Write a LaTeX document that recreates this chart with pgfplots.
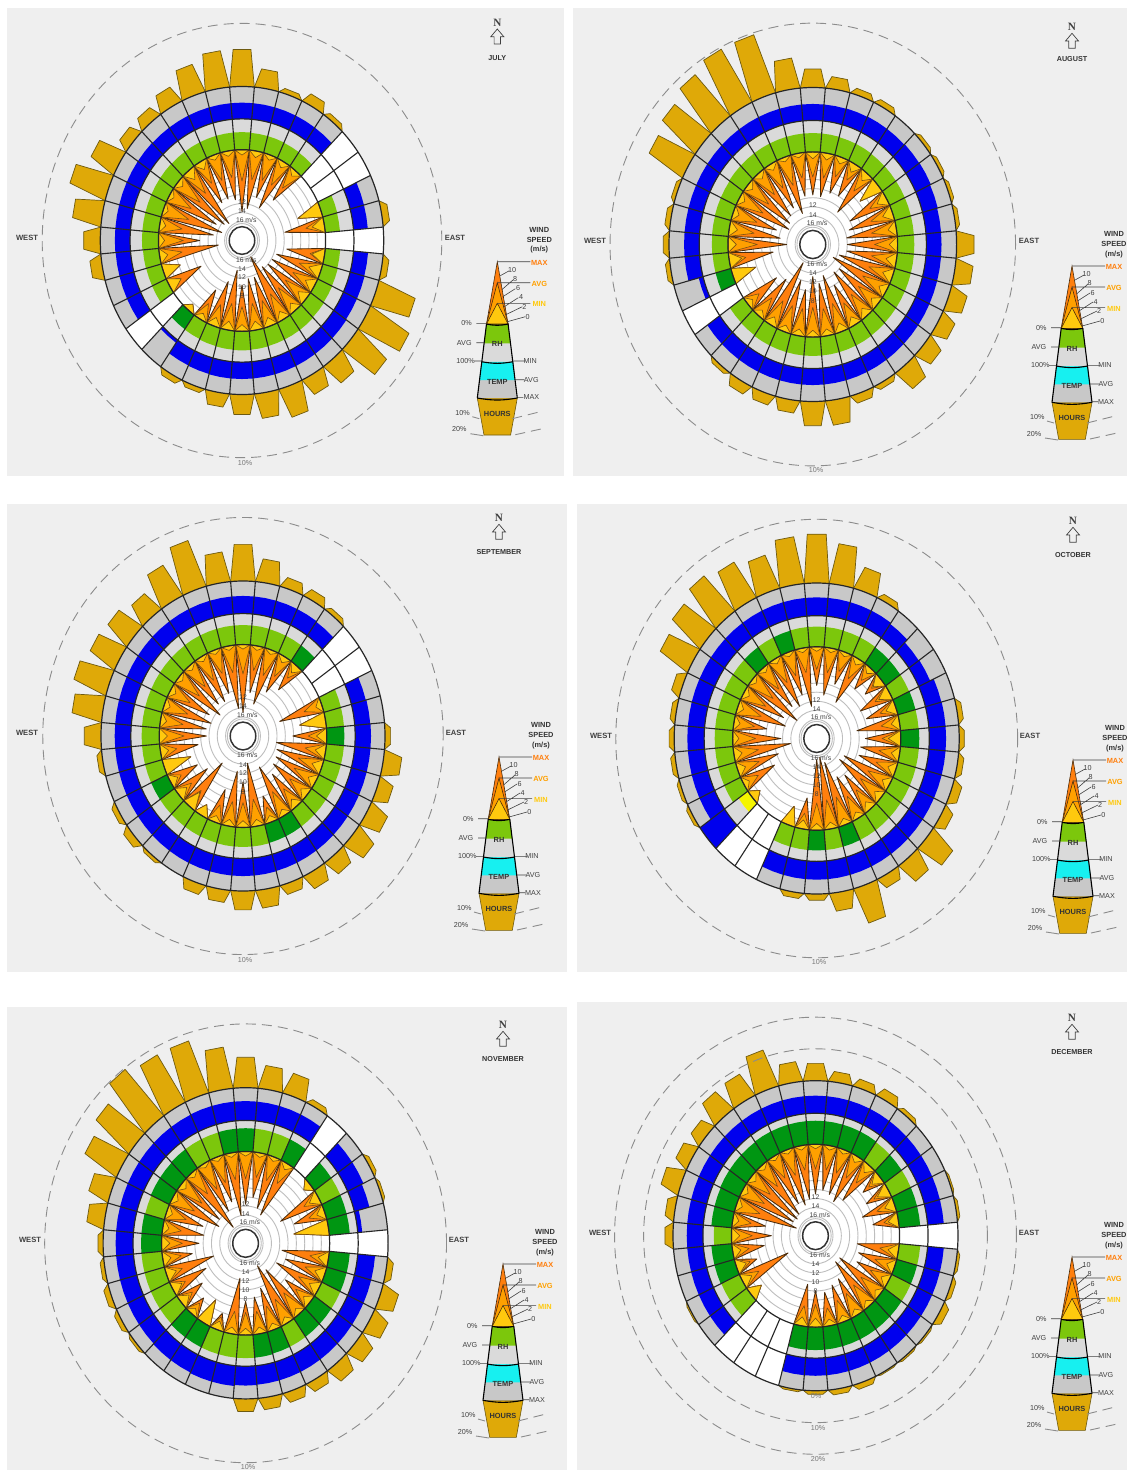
\documentclass[border=0pt]{standalone}
\usepackage{fontspec}
\setmainfont{Liberation Sans}
\newfontfamily\serifn{Liberation Serif}
\usepackage{pgfplots}
\usepackage{pgfplotstable}
\pgfplotsset{compat=1.18}

\definecolor{panelbg}{HTML}{EFEFEF}
\definecolor{hourgold}{HTML}{DFA908}
\definecolor{houredge}{HTML}{6E5A10}
\definecolor{tempgray}{HTML}{C8C8C8}
\definecolor{rhgray}{HTML}{DADADA}
\definecolor{tempblue}{HTML}{0000EE}
\definecolor{tempcyan}{HTML}{17F0F0}
\definecolor{rhlight}{HTML}{7CC70C}
\definecolor{rhdark}{HTML}{009612}
\definecolor{rhyellow}{HTML}{F5F500}
\definecolor{windmax}{HTML}{FF7F0E}
\definecolor{windavg}{HTML}{FFA000}
\definecolor{windmin}{HTML}{FFC90E}
\definecolor{windedge}{HTML}{4A2C0C}
\definecolor{windedgesoft}{HTML}{7A5014}
\definecolor{gridgray}{HTML}{BEBEBE}
\definecolor{dashgray}{HTML}{8C8C8C}
\definecolor{txt}{HTML}{404040}
\definecolor{txtlight}{HTML}{777777}

% dir hours rh class temp wmax wavg wmin ; dir clockwise from north, nan = no data
\pgfplotstableread{
dir hours rh cls temp wmax wavg wmin
0 5.9 57 0 50 13.8 7.0 1.2
10 3.0 56 0 50 13.0 6.5 1.5
20 0.8 56 0 50 10.0 6.0 1.2
30 1.7 55 0 50 11.8 6.0 1.5
40 0.8 54 0 50 8.5 5.0 1.5
50 0 nan 0 nan nan nan nan
60 0 nan 0 nan nan nan nan
70 0 53 0 48 5.8 5.8 5.8
80 1.2 52 0 48 9.7 4.5 3.0
90 0 nan 0 nan nan nan nan
100 1.1 53 0 49 9.2 3.5 3.0
110 6.8 55 0 50 11.3 5.5 3.0
120 7.9 56 0 50 11.8 6.0 2.5
130 6.8 58 0 52 12.0 6.5 2.5
140 3.9 60 0 52 12.6 6.5 2.0
150 3.0 60 0 52 16.0 6.5 2.0
160 4.9 60 0 52 11.5 6.0 2.0
170 4.0 61 0 52 11.6 6.0 2.0
180 3.2 62 0 52 10.3 5.5 1.5
190 2.2 61 0 52 13.5 6.0 2.0
200 0.8 60 0 51 10.5 5.0 2.0
210 1.0 58 0 50 7.5 4.0 1.5
220 0 57 1 10 1.7 1.7 1.7
230 0 nan 0 nan nan nan nan
240 0 55 0 50 8.8 3.2 3.2
250 0 55 0 50 4.3 4.3 4.3
260 2.0 56 0 50 14.4 5.5 2.0
270 2.9 58 0 51 10.0 6.0 1.5
280 5.0 58 0 51 13.2 5.5 1.5
290 6.6 58 0 51 15.0 6.5 1.2
300 4.8 58 0 51 13.0 6.0 1.2
310 2.0 58 0 51 14.6 7.0 1.5
320 2.0 57 0 50 15.3 6.5 2.5
330 2.9 57 0 50 10.5 5.5 2.0
340 4.8 57 0 50 10.4 6.0 1.2
350 5.9 57 0 50 11.0 6.0 1.2
}\tabJul

\pgfplotstableread{
dir hours rh cls temp wmax wavg wmin
0 2.9 60 0 50 9.4 5.5 1.5
10 1.9 60 0 50 9.6 5.5 1.5
20 1.0 59 0 51 8.3 4.5 1.5
30 0.9 59 0 52 8.0 4.0 2.0
40 0 58 0 52 11.0 5.0 2.0
50 0.6 58 0 54 5.5 5.5 5.5
60 0.6 58 0 55 10.0 4.5 2.5
70 0.6 58 0 52 11.0 5.5 2.5
80 0.7 58 0 50 12.0 6.0 2.0
90 3.0 58 0 50 12.0 5.5 2.0
100 3.0 58 0 50 12.0 6.0 2.5
110 3.0 58 0 50 13.5 6.0 2.5
120 2.7 58 0 50 14.6 6.5 2.0
130 2.9 58 0 50 12.0 6.0 2.0
140 3.7 59 0 50 12.4 6.0 2.0
150 0.9 60 0 50 10.0 5.5 2.0
160 1.4 60 0 50 13.0 6.5 2.0
170 3.9 60 0 50 11.6 6.0 1.5
180 3.8 60 0 50 13.2 6.5 1.5
190 2.0 60 0 50 10.2 6.0 1.5
200 1.7 60 0 50 11.9 6.0 1.5
210 1.7 60 0 50 15.6 6.0 2.0
220 0.7 58 0 50 10.3 5.0 1.5
230 0 57 0 50 8.9 3.5 1.5
240 0 nan 0 nan nan nan nan
250 0 55 1 15 5.7 5.7 5.7
260 0.8 55 0 50 10.6 4.0 3.0
270 1.0 56 0 50 14.0 7.0 2.0
280 0.9 57 0 50 12.3 6.0 2.0
290 0.7 58 0 50 11.0 6.0 1.5
300 6.8 58 0 50 13.6 6.5 1.5
310 7.6 60 0 50 13.0 6.5 1.5
320 8.7 60 0 50 12.0 6.0 1.5
330 9.7 60 0 50 11.0 6.0 1.5
340 9.7 60 0 50 13.0 6.5 1.0
350 4.8 60 0 50 9.5 5.5 1.0
}\tabAug

\pgfplotstableread{
dir hours rh cls temp wmax wavg wmin
0 5.8 63 0 54 15.0 6.5 1.0
10 3.7 63 0 54 10.5 5.5 1.0
20 1.7 62 0 54 12.7 6.0 1.0
30 1.5 62 0 54 9.0 5.0 1.5
40 0.8 62 1 52 6.9 3.5 2.0
50 0 nan 0 nan nan nan nan
60 0 nan 0 nan nan nan nan
70 0 62 0 50 10.8 4.5 1.5
80 0 62 0 52 6.3 6.3 6.3
90 1.0 62 1 53 8.2 4.5 2.5
100 3.1 62 0 53 12.0 5.0 2.5
110 2.6 62 0 53 11.5 6.0 2.5
120 3.5 62 0 53 11.0 6.0 2.0
130 3.8 62 0 53 10.6 5.5 2.0
140 2.8 62 0 53 9.2 5.0 2.0
150 2.6 62 1 53 12.3 6.0 1.5
160 1.7 62 1 53 6.1 3.5 1.5
170 2.9 63 0 54 14.1 6.0 1.5
180 3.0 63 0 54 10.0 5.5 1.5
190 2.0 63 0 54 12.3 5.5 1.5
200 1.7 62 0 54 7.6 4.0 1.5
210 0 62 0 54 2.7 2.7 2.7
220 0.6 62 0 54 12.4 4.5 4.0
230 1.3 62 0 54 9.0 4.0 2.5
240 0.9 62 1 54 7.5 3.0 2.0
250 0 62 0 54 6.8 6.8 6.8
260 0.9 62 0 54 9.2 4.0 2.0
270 2.9 62 0 54 11.4 6.0 2.0
280 5.2 62 0 54 11.2 5.5 1.5
290 6.0 62 0 54 12.0 6.0 1.5
300 5.1 62 0 54 10.8 5.5 1.5
310 4.7 62 0 54 13.0 6.5 1.2
320 3.7 62 0 54 11.0 6.0 1.2
330 5.8 63 0 54 11.4 6.0 1.2
340 7.8 63 0 54 10.2 5.5 1.0
350 4.8 63 0 54 14.0 6.0 1.0
}\tabSep

\pgfplotstableread{
dir hours rh cls temp wmax wavg wmin
0 7.7 65 0 56 8.5 5.0 1.0
10 6.4 65 0 56 10.5 5.5 1.0
20 3.7 64 0 56 7.5 4.5 1.0
30 1.0 64 0 56 11.0 5.0 1.5
40 0 63 1 52 6.0 3.5 1.5
50 0 63 1 40 5.0 3.0 2.5
60 0 63 0 42 8.1 4.0 3.0
70 0 64 1 55 7.5 4.0 2.5
80 0.9 64 0 56 10.4 4.5 2.0
90 0.9 65 1 56 8.5 4.5 3.0
100 1.0 65 0 56 9.5 5.0 2.0
110 1.6 65 0 56 9.4 5.0 2.0
120 1.8 65 0 56 12.6 6.0 2.0
130 4.8 65 0 56 13.0 6.5 2.0
140 3.7 65 0 56 9.7 5.5 2.0
150 1.9 65 0 56 10.5 5.5 1.5
160 5.9 65 1 56 14.6 6.5 1.5
170 2.9 65 0 56 16.0 6.5 1.5
180 1.0 65 1 56 15.6 6.0 1.5
190 0.9 65 0 56 6.9 3.5 2.0
200 0 65 0 56 4.3 4.3 4.3
210 0 nan 0 nan nan nan nan
220 0 nan 0 nan nan nan nan
230 0 40 2 100 2.4 2.4 2.4
240 0.6 63 0 56 8.5 4.0 1.5
250 0.6 63 0 56 10.4 5.5 2.0
260 0.8 63 0 56 13.8 6.0 2.0
270 0.9 63 0 56 11.6 5.5 1.5
280 0.9 63 0 56 8.0 5.0 1.5
290 1.6 63 0 56 12.2 6.0 1.5
300 5.7 64 0 56 11.0 6.0 1.5
310 6.6 64 0 56 14.0 6.5 1.2
320 7.6 64 1 56 11.0 6.0 1.2
330 6.7 64 0 56 12.0 6.0 1.2
340 5.7 64 1 56 10.0 5.5 1.0
350 7.5 65 0 56 13.0 5.5 1.0
}\tabOct

\pgfplotstableread{
dir hours rh cls temp wmax wavg wmin
0 4.8 75 1 59 11.6 6.0 1.0
10 3.7 75 0 59 10.0 5.5 1.0
20 3.5 74 0 59 12.0 5.5 1.0
30 0.9 74 1 59 13.0 5.0 1.5
40 0 nan 0 nan nan nan nan
50 0 72 1 58 1.9 1.9 1.9
60 0.7 72 0 58 10.5 4.0 2.5
70 0.5 72 1 52 7.8 4.0 2.0
80 0 72 1 15 8.4 8.4 8.4
90 0 nan 0 nan nan nan nan
100 1.1 72 1 58 11.3 4.5 2.5
110 3.0 72 1 58 10.0 5.0 2.5
120 3.0 72 0 58 11.6 5.5 2.5
130 2.9 72 1 58 7.7 4.5 2.0
140 2.7 72 1 58 12.6 6.0 1.5
150 1.7 72 0 58 14.5 6.0 1.5
160 1.7 72 1 58 9.7 5.5 1.5
170 1.9 74 1 58 8.2 5.0 1.5
180 2.0 74 0 59 7.4 5.0 1.5
190 0 74 0 62 12.4 5.0 1.5
200 0 74 0 62 3.8 3.0 2.0
210 0 74 1 60 5.8 5.8 5.8
220 0 74 1 60 4.5 3.0 1.5
230 0.5 72 0 58 6.6 3.5 2.5
240 0.8 72 0 58 9.2 3.5 2.5
250 1.0 72 0 58 12.0 4.0 2.5
260 0.7 72 0 58 7.2 4.5 2.0
270 0.9 72 1 58 9.0 5.0 2.0
280 3.0 72 1 58 10.0 4.5 1.5
290 3.7 70 0 58 9.3 5.0 1.5
300 6.5 72 1 58 12.8 6.0 1.5
310 7.7 72 1 58 12.0 6.5 1.5
320 9.8 74 1 58 15.6 6.0 1.2
330 8.8 74 0 58 12.0 6.5 1.0
340 8.8 74 0 59 10.5 6.0 1.0
350 6.6 75 1 59 14.0 6.0 1.0
}\tabNov

\pgfplotstableread{
dir hours rh cls temp wmax wavg wmin
0 5.5 76 1 54 11.0 5.5 1.0
10 3.3 76 1 54 10.0 5.5 1.0
20 2.8 76 1 54 10.5 5.5 1.0
30 3.1 76 1 54 11.5 5.5 1.5
40 1.4 74 0 54 10.0 5.0 2.0
50 0 74 1 54 5.3 3.5 2.5
60 0 74 0 54 6.1 4.0 3.0
70 0.7 74 1 54 8.2 4.5 2.5
80 1.0 74 1 54 6.2 3.5 2.5
90 0 nan 0 nan nan nan nan
100 1.0 74 0 54 10.0 4.5 2.5
110 1.5 74 1 54 9.2 5.0 2.0
120 2.4 74 0 54 8.7 5.0 2.0
130 0.7 74 1 54 12.6 6.0 1.5
140 0.7 74 1 54 12.7 6.0 1.5
150 0.5 74 1 54 9.2 5.5 1.5
160 1.8 74 1 54 8.6 5.0 1.5
170 1.7 74 1 54 7.5 4.0 1.5
180 1.2 74 1 54 8.0 5.0 2.0
190 0.7 74 1 54 9.3 4.5 2.0
200 0 nan 0 nan nan nan nan
210 0 nan 0 nan nan nan nan
220 0 nan 0 nan nan nan nan
230 0 70 0 54 3.2 3.2 3.2
240 0.6 70 0 54 12.6 4.5 2.5
250 0 72 1 54 5.2 3.5 2.5
260 0 72 1 54 7.7 4.0 2.0
270 2.8 62 0 54 9.6 5.0 2.0
280 3.1 72 1 54 8.0 4.5 1.5
290 6.5 72 1 54 15.3 6.0 1.5
300 4.9 74 1 54 14.0 6.0 1.5
310 4.6 74 1 54 14.5 6.0 1.5
320 8.0 74 1 54 14.0 6.0 1.2
330 8.3 76 1 54 12.0 5.5 1.0
340 12.3 76 1 54 13.0 6.0 1.0
350 6.4 76 1 54 12.0 5.5 1.0
}\tabDec

\def\nanstr{nan}
\newcommand{\elem}[3]{\pgfplotstablegetelem{#1}{#2}\of{#3}\edef\val{\pgfplotsretval}}
\newcommand{\ring}[2][gridgray]{\draw[#1,line width=0.45pt] (axis cs:0,0) ellipse [x radius=#2,y radius=#2];}

% one cell of a ring band, outer and inner edge follow the arc
\newcommand{\cell}[4]{% colour, centre angle, inner r, outer r
  \pgfmathsetmacro\aL{#2+5}\pgfmathsetmacro\aR{#2-5}%
  \edef\temp{\noexpand\addplot[data cs=polar,fill=#1,draw=none]
    coordinates {(\aL,#3)(#2,#3)(\aR,#3)(\aR,#4)(#2,#4)(\aL,#4)} --cycle;}\temp}

\newcommand{\spike}[4]{% colour, edge style, centre angle, speed
  \pgfmathsetmacro\aL{#3+5}\pgfmathsetmacro\aR{#3-5}%
  \pgfmathsetmacro\rr{0.59-0.0292*#4}%
  \edef\temp{\noexpand\addplot[data cs=polar,fill=#1,#2,line join=round]
    coordinates {(\aL,0.59)(#3,\rr)(\aR,0.59)} --cycle;}\temp}

\newcommand{\rose}[2]{% table, hour scale in radius per percent
  \pgfplotstablegetrowsof{#1}%
  \pgfmathtruncatemacro\lastrow{\pgfplotsretval-1}%
  \pgfplotsforeachungrouped \i in {0,...,\lastrow}{%
    \elem{\i}{dir}{#1}\pgfmathsetmacro\ang{90-\val}%
    \elem{\i}{hours}{#1}\let\hv\val
    \ifdim\hv pt>0pt
      \pgfmathsetmacro\rh{1+#2*\hv}%
      \pgfmathsetmacro\aA{\ang+5}\pgfmathsetmacro\aB{\ang+2.9}%
      \pgfmathsetmacro\aC{\ang-2.9}\pgfmathsetmacro\aD{\ang-5}%
      \edef\temp{\noexpand\addplot[data cs=polar,fill=hourgold,draw=houredge,line width=0.35pt,line join=round]
        coordinates {(\aA,1)(\aB,\rh)(\aC,\rh)(\aD,1)} --cycle;}\temp
    \fi
  }%
  \fill[tempgray] (axis cs:0,0) ellipse [x radius=1,y radius=1];
  \fill[rhgray] (axis cs:0,0) ellipse [x radius=0.79,y radius=0.79];
  \pgfplotsforeachungrouped \i in {0,...,\lastrow}{%
    \elem{\i}{dir}{#1}\pgfmathsetmacro\ang{90-\val}%
    \elem{\i}{temp}{#1}\let\tv\val
    \ifx\tv\nanstr
      \cell{white}{\ang}{0.79}{1}%
    \else
      \pgfmathsetmacro\rt{0.79+0.0021*\tv}%
      \cell{tempblue}{\ang}{0.79}{\rt}%
    \fi
    \elem{\i}{rh}{#1}\let\rv\val
    \ifx\rv\nanstr
      \cell{white}{\ang}{0.59}{0.79}%
    \else
      \elem{\i}{cls}{#1}\let\cv\val
      \ifnum\cv=0 \def\gc{rhlight}\fi
      \ifnum\cv=1 \def\gc{rhdark}\fi
      \ifnum\cv=2 \def\gc{rhyellow}\fi
      \pgfmathsetmacro\rg{0.59+0.002*\rv}%
      \cell{\gc}{\ang}{0.59}{\rg}%
    \fi
  }%
  \fill[white] (axis cs:0,0) ellipse [x radius=0.59,y radius=0.59];
  \ring{0.5316}\ring{0.4732}\ring{0.4148}\ring{0.3564}\ring{0.298}\ring{0.2396}\ring{0.1812}\ring{0.1228}%
  \pgfplotsforeachungrouped \i in {0,...,\lastrow}{%
    \elem{\i}{dir}{#1}\pgfmathsetmacro\ang{90-\val}%
    \elem{\i}{wmax}{#1}\let\wv\val
    \ifx\wv\nanstr\else
      \spike{windmax}{draw=windedge,line width=0.42pt}{\ang}{\wv}%
      \elem{\i}{wavg}{#1}\let\wv\val
      \spike{windavg}{draw=windedgesoft,line width=0.3pt}{\ang}{\wv}%
      \elem{\i}{wmin}{#1}\let\wv\val
      \spike{windmin}{draw=windedgesoft,line width=0.3pt}{\ang}{\wv}%
    \fi
  }%
  % sector edges and the black rings on top
  \pgfplotsforeachungrouped \i in {0,...,\lastrow}{%
    \elem{\i}{dir}{#1}\pgfmathsetmacro\ang{85-\val}%
    \pgfmathsetmacro\xa{0.59*cos(\ang)}\pgfmathsetmacro\ya{0.59*sin(\ang)}%
    \pgfmathsetmacro\xb{cos(\ang)}\pgfmathsetmacro\yb{sin(\ang)}%
    \edef\temp{\noexpand\draw[black!85,line width=0.55pt] (axis cs:\xa,\ya) -- (axis cs:\xb,\yb);}\temp
  }%
  \draw[black!85,line width=0.6pt] (axis cs:0,0) ellipse [x radius=1,y radius=1];
  \draw[black!85,line width=0.6pt] (axis cs:0,0) ellipse [x radius=0.79,y radius=0.79];
  \draw[black!85,line width=0.6pt] (axis cs:0,0) ellipse [x radius=0.59,y radius=0.59];
  \draw[gridgray,line width=0.45pt] (axis cs:0,0) ellipse [x radius=0.11,y radius=0.11];
  \filldraw[fill=white,draw=black!80,line width=0.75pt] (axis cs:0,0) ellipse [x radius=0.09,y radius=0.09];
  \path[font=\fontsize{3.4pt}{4pt}\selectfont,text=txt]
    (axis cs:0.03,0.135) node {16 m/s} (axis cs:0,0.19) node {14} (axis cs:0,0.25) node {12}
    (axis cs:0.03,-0.125) node {16 m/s} (axis cs:0,-0.185) node {14} (axis cs:0,-0.24) node {12}
    (axis cs:0,-0.3) node {10} (axis cs:0,-0.36) node {8};
}

\newcommand{\panel}[9]{% x0 y0 x1 y1 cx cy Rx Ry table ; \hs hour scale, \dashrings radii
  \pgfmathsetmacro\pw{(#3-#1)*0.5}\pgfmathsetmacro\ph{(#4-#2)*0.5}%
  \pgfmathsetmacro\pxa{#1*0.5}\pgfmathsetmacro\pya{-#4*0.5}%
  \pgfmathsetmacro\xlo{(#1-#5)/#7}\pgfmathsetmacro\xhi{(#3-#5)/#7}%
  \pgfmathsetmacro\ylo{(#6-#4)/#8}\pgfmathsetmacro\yhi{(#6-#2)/#8}%
  \begin{axis}[
    at={(\pxa pt,\pya pt)},anchor=south west,
    width=\pw pt,height=\ph pt,scale only axis,
    xmin=\xlo,xmax=\xhi,ymin=\ylo,ymax=\yhi,
    axis background/.style={fill=panelbg},
    axis line style={draw=none},ticks=none,clip=false,
  ]
    \rose{#9}{\hs}
    \dashrings
  \end{axis}}

\newcommand{\dashring}[1]{\draw[dashgray,line width=0.45pt,dash pattern=on 5pt off 3pt] (axis cs:0,0) ellipse [x radius=#1,y radius=#1];}

% key on the right of each panel, in pixels from the tip of the spike
\newcommand{\key}[4]{% tip x, tip y, month, month y offset from tip
  \begin{scope}[shift={(#1,#2)},font=\fontsize{3.6pt}{4.6pt}\selectfont]
    \fill[hourgold,draw=houredge,line width=0.3pt] (-20,136.3) -- (20,136.3) -- (13.3,173.3) -- (-13.3,173.3) -- cycle;
    \fill[tempgray] (-15.8,100) -- (15.8,100) -- (20,136.3) -- (-20,136.3) -- cycle;
    \fill[tempcyan] (-15.8,100) -- (15.8,100) -- (17.9,118.3) -- (-17.9,118.3) -- cycle;
    \fill[rhgray] (-10.8,62.3) -- (10.8,62.3) -- (15.8,100) -- (-15.8,100) -- cycle;
    \fill[rhlight] (-10.8,62.3) -- (10.8,62.3) -- (13.3,81.6) -- (-13.3,81.6) -- cycle;
    \filldraw[fill=windmax,draw=windedge,line width=0.3pt] (-10.8,62.3) -- (0,0) -- (10.8,62.3) -- cycle;
    \filldraw[fill=windavg,draw=windedge,line width=0.3pt] (-10.8,62.3) -- (0,21) -- (10.8,62.3) -- cycle;
    \filldraw[fill=windmin,draw=windedge,line width=0.3pt] (-10.8,62.3) -- (0,41.6) -- (10.8,62.3) -- cycle;
    \draw[black,line width=0.55pt] (-10.8,62.3) -- (-20,136.3) (10.8,62.3) -- (20,136.3);
    \draw[black,line width=0.55pt] (-10.8,62.3) to[bend right=12] (10.8,62.3);
    \draw[black,line width=0.55pt] (-15.8,100) to[bend right=10] (15.8,100);
    \draw[black,line width=0.55pt] (-20,136.3) to[bend right=10] (20,136.3);
    \draw[txt,line width=0.3pt] (0,0) -- (33,0) (0,21) -- (33,21) (0,41.6) -- (33,41.6)
      (-21,61.7) -- (-11,61.7) (-21,81) -- (-13,81) (-23,99.3) -- (-16,99.3)
      (16,99.3) -- (28,99.3) (18,118) -- (27,118) (20,135.7) -- (26,135.7)
      (3,14) -- (12,9) (4.5,28) -- (16,18) (5.5,35) -- (18,27) (7,45) -- (21,36) (8.5,53) -- (25,45) (10,60) -- (28,55);
    \draw[dashgray,line width=0.45pt,dash pattern=on 5pt off 3pt] (15,157) -- (43,150) (18,173) -- (45,167);
    \draw[dashgray,line width=0.45pt] (-25,155) -- (-18,157) (-27,172) -- (-14,174);
    \path[text=txt]
      (14.7,8.3) node {10} (17.7,17.3) node {8} (20.7,26.7) node {6} (23.7,35.7) node {4} (27,45) node {2} (30.3,55) node {0}
      (-30.7,61.7) node {0\%} (-33,81) node {AVG} (-31.7,99.3) node {100\%}
      (33,99.3) node {MIN} (34,118) node {AVG} (34,135.7) node {MAX}
      (-34.7,151) node {10\%} (-38,167.7) node {20\%};
    \path[font=\fontsize{3.7pt}{4.6pt}\selectfont\bfseries,text=black!80]
      (0,82.6) node {RH} (0,120) node {TEMP} (0,152.3) node {HOURS}
      (42,-31.7) node {WIND} (42,-21.7) node {SPEED} (42,-11.7) node {(m/s)} ;
    \path[font=\fontsize{3.7pt}{4.6pt}\selectfont\bfseries]
      (42,0.9) node[text=windmax] {MAX} (42,22) node[text=windavg] {AVG} (42,42.6) node[text=windmin] {MIN};
    \path (0,-239) node[font=\fontsize{5.6pt}{6pt}\serifn\bfseries,text=txt] {N};
    \filldraw[fill=panelbg,draw=txt,line width=0.35pt] (0,-232.7) -- (6.5,-225) -- (3.2,-225) -- (3.2,-217.7) -- (-3.2,-217.7) -- (-3.2,-225) -- (-6.5,-225) -- cycle;
    \path (0,#4) node[font=\fontsize{3.6pt}{4.6pt}\selectfont\bfseries,text=black!80] {#3};
  \end{scope}}

\newcommand{\compass}[5]{% west x, east x, y, 10% x, 10% y
  \path[font=\fontsize{3.8pt}{4.6pt}\selectfont\bfseries,text=txt] (#1,#3) node {WEST} (#2,#3) node {EAST};
  \path[font=\fontsize{3.6pt}{4.6pt}\selectfont,text=txtlight] (#4,#5) node {10\%};}

\begin{document}
\begin{tikzpicture}
  \fill[white] (0,0) rectangle (563.5pt,-736.5pt);
  \path[use as bounding box] (0,0) rectangle (563.5pt,-736.5pt);

  \def\hs{0.041}\def\dashrings{\dashring{1.41}}
  \panel{7}{8}{564}{476}{242}{240.5}{141.7}{154}{\tabJul}
  \panel{573}{8}{1127}{476}{812.8}{244.5}{143.8}{157}{\tabAug}
  \panel{7}{504}{567}{972}{243}{736}{142}{155}{\tabSep}
  \panel{577}{504}{1127}{972}{816.7}{738.5}{142.5}{155.5}{\tabOct}
  \panel{7}{1007}{567}{1470}{245.6}{1243.3}{142.5}{155.6}{\tabNov}
  \def\hs{0.0206}\def\dashrings{\dashring{1.206}\dashring{1.41}}
  \panel{577}{1002}{1127}{1470}{815.5}{1235.7}{142.5}{155}{\tabDec}

  \begin{scope}[x=0.5pt,y=-0.5pt]
    \key{497.3}{261.7}{JULY}{-203.7}
    \key{1072}{266}{AUGUST}{-207}
    \key{499}{757}{SEPTEMBER}{-205}
    \key{1073}{760}{OCTOBER}{-205}
    \key{503}{1264}{NOVEMBER}{-205}
    \key{1072}{1257}{DECEMBER}{-205}
    \compass{27}{455}{238}{245}{463}
    \compass{595}{1029}{241}{816}{470}
    \compass{27}{456}{733}{245}{960}
    \compass{601}{1030}{736}{819}{962}
    \compass{30}{459}{1240}{248}{1467}
    \compass{600}{1029}{1233}{818}{1428}
    \path[font=\fontsize{3.6pt}{4.6pt}\selectfont,text=txtlight] (816,1396) node {0\%} (818,1459) node {20\%};
  \end{scope}
\end{tikzpicture}
\end{document}
